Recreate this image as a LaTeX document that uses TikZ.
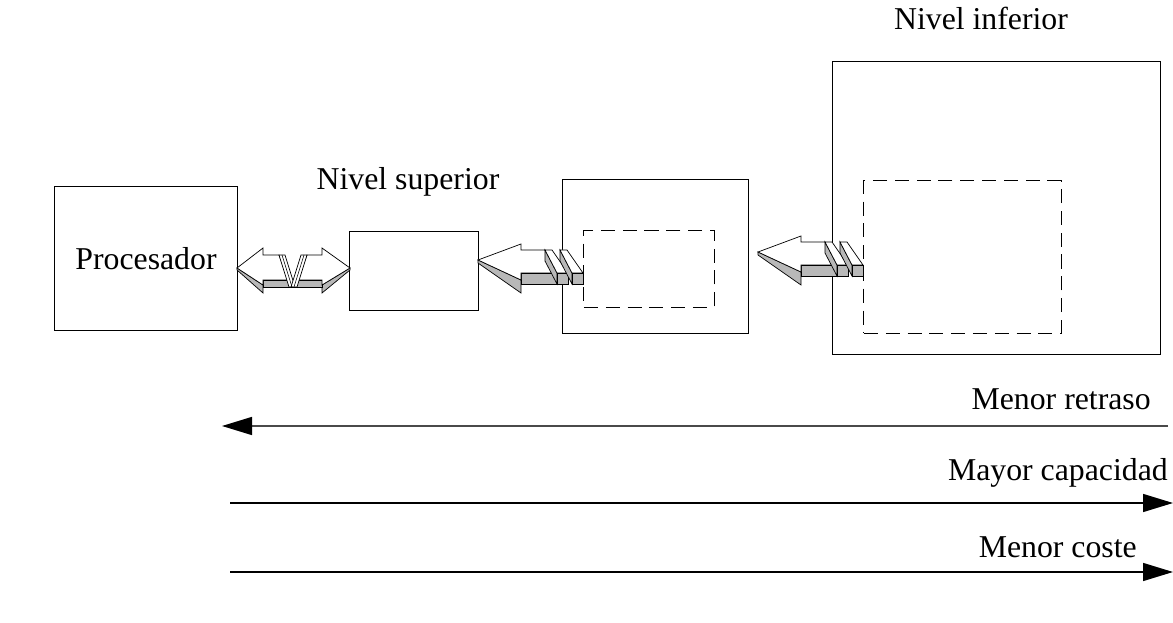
\documentclass[tikz,border=0pt]{standalone}
\usepackage{fontspec}
\setmainfont{Liberation Serif}
\usetikzlibrary{arrows.meta,positioning}
\definecolor{shade}{HTML}{B8B8B8}
\definecolor{rule}{HTML}{4A4A4A}
\tikzset{
  box/.style={draw, line width=0.7pt, inner sep=0pt},
  dashbox/.style={draw, line width=0.7pt, dash pattern=on 10pt off 5.5pt, inner sep=0pt},
  lbl/.style={font=\fontsize{22.6}{26}\selectfont, inner sep=0pt},
  face/.style={draw, fill=white, line width=0.5pt, line join=miter},
  side/.style={draw, fill=shade, line width=0.5pt},
  scalearrow/.style={-{Triangle[length=0.75cm,width=0.45cm,color=black]}, line width=1pt}
}
\begin{document}
\begin{tikzpicture}[x=0.025cm,y=-0.025cm]
\useasboundingbox (0,0) rectangle (1173,623);

% memory levels
\node[box, minimum width=4.55cm, minimum height=3.575cm, lbl] (proc) at (146,258.5) {Procesador};
\node[box, minimum width=3.2cm, minimum height=1.95cm] (sup) at (414,271) {};
\node[box, minimum width=4.625cm, minimum height=3.825cm] (mid) at (655.5,256.5) {};
\node[dashbox, minimum width=3.25cm, minimum height=1.9cm] (midin) at (649,269) {};
\node[box, minimum width=8.175cm, minimum height=7.3cm] (inf) at (996.5,208) {};
\node[dashbox, minimum width=4.925cm, minimum height=3.8cm] (infin) at (962.5,257) {};
\node[lbl, anchor=base] (suplbl) at (408,190) {Nivel superior};
\node[lbl, anchor=base] (inflbl) at (981,30) {Nivel inferior};

% double transfer arrow processor <-> upper level
\begin{scope}[shift={(237,268)}]
  \draw[side] (0,0) -- (26,17) -- (26,25) -- (0,2) -- cycle;
  \draw[side] (113,0) -- (85,17) -- (85,25) -- (113,2) -- cycle;
  \draw[side] (26,12) rectangle (85,19);
  \draw[face] (0,0) -- (26,-20) -- (26,-13) -- (42,-13) -- (51,12) -- (26,12) -- (26,17) -- cycle;
  \draw[face] (113,0) -- (85,-20) -- (85,-13) -- (70,-13) -- (61,12) -- (85,12) -- (85,17) -- cycle;
  \draw[face] (42,-13) -- (48,-13) -- (58,19) -- (52,19) -- cycle;
  \draw[face] (64,-13) -- (70,-13) -- (60,19) -- (54,19) -- cycle;
  \draw (45,-13) -- (55,19) (67,-13) -- (57,19);
\end{scope}

% block transfer arrows between levels
\foreach \tx/\ty in {478/260,758/252} {
  \begin{scope}[shift={(\tx,\ty)}]
    \draw[side] (0,0) -- (43,20) -- (43,33) -- (0,3) -- cycle;
    \draw[side] (43,13) rectangle (79,24);
    \draw[face] (0,0) -- (43,-16) -- (43,-10) -- (67,-10) -- (79,13) -- (43,13) -- (43,20) -- cycle;
    \foreach \b in {67,82} {
      \draw[side] (\b,-10) -- (\b+12,13) -- (\b+12,24) -- (\b,1) -- cycle;
      \draw[side] (\b+12,13) rectangle (\b+23,24);
      \draw[face] (\b,-10) -- (\b+7,-10) -- (\b+23,13) -- (\b+12,13) -- cycle;
    }
  \end{scope}
}

% scales
\coordinate (r0) at (1168,426);
\coordinate (r1) at (222,426);
\coordinate (c0) at (230,503);
\coordinate (c1) at (1173,503);
\coordinate (k0) at (230,572);
\coordinate (k1) at (1173,572);
\draw[scalearrow, draw=rule] (r0) -- (r1);
\draw[scalearrow] (c0) -- (c1);
\draw[scalearrow] (k0) -- (k1);
\node[lbl, anchor=base east] (retraso) at (1151,409) {Menor retraso};
\node[lbl, anchor=base east] (capac) at (1168,480) {Mayor capacidad};
\node[lbl, anchor=base east] (coste) at (1137,557) {Menor coste};
\end{tikzpicture}
\end{document}
